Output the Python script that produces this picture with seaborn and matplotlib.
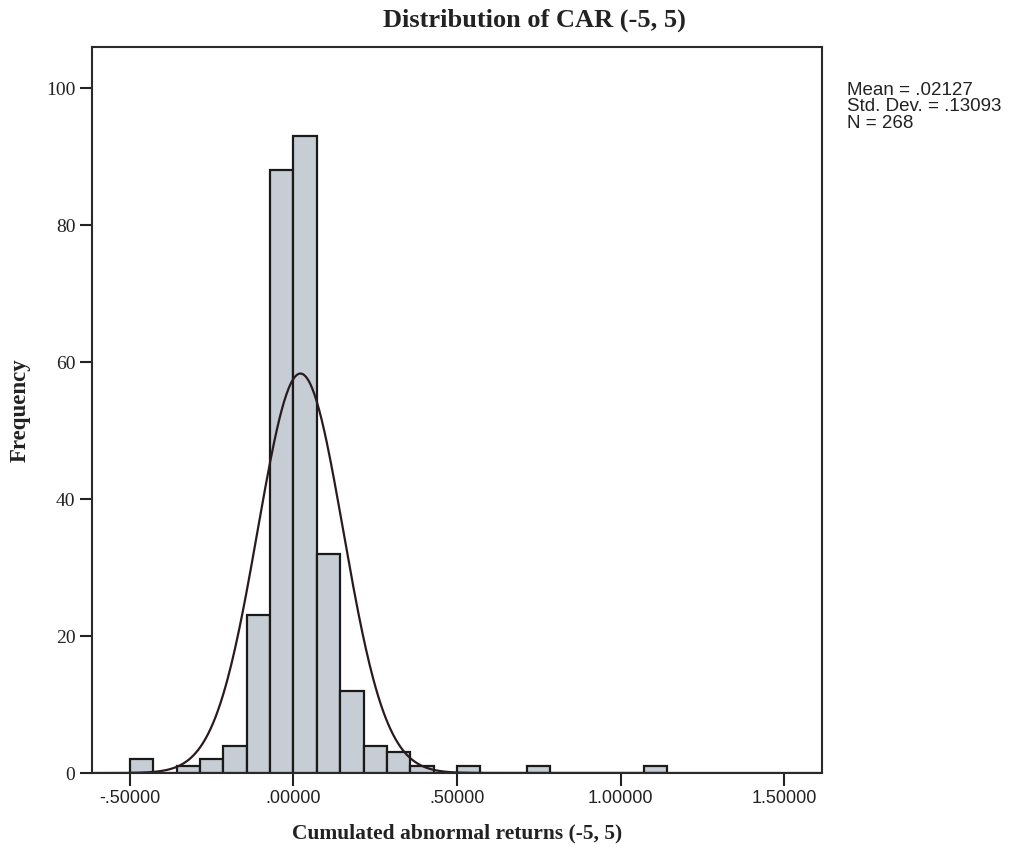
import numpy as np
import pandas as pd
import matplotlib
matplotlib.use("Agg")
import matplotlib.pyplot as plt
import seaborn as sns

# histogram bins: width 1/14, indexed by left edge k/14
bin_index = [-7, -6, -5, -4, -3, -2, -1, 0, 1, 2, 3, 4, 5, 6, 7, 8, 9, 10, 11, 12, 13, 14, 15]
counts = [2, 0, 1, 2, 4, 23, 88, 93, 32, 12, 4, 3, 1, 0, 1, 0, 0, 1, 0, 0, 0, 0, 1]
bin_width = 1 / 14

mean_car = 0.02127
sd_car = 0.13093
n_obs = 268

x_ticks = [-0.5, 0.0, 0.5, 1.0, 1.5]
x_tick_labels = ["-.50000", ".00000", ".50000", "1.00000", "1.50000"]
y_ticks = [0, 20, 40, 60, 80, 100]

sns.set_theme(style="white")
plt.rcParams["font.family"] = ["Liberation Serif", "DejaVu Serif"]

fig = plt.figure(figsize=(10.13, 8.49), dpi=100)
ax = fig.add_axes([0.0908, 0.0895, 0.7207, 0.8551])

df = pd.DataFrame({"center": (np.array(bin_index) + 0.5) * bin_width, "count": counts})
edges = [(k) * bin_width for k in bin_index + [bin_index[-1] + 1]]
sns.histplot(data=df, x="center", weights="count", bins=edges, ax=ax,
             color="#c6cdd4", edgecolor="#1a1a1a", linewidth=1.6, alpha=1)

# normal curve from the reported mean / sd / N
xs = np.linspace(-0.62, 1.62, 600)
ys = n_obs * bin_width * np.exp(-0.5 * ((xs - mean_car) / sd_car) ** 2) / (sd_car * np.sqrt(2 * np.pi))
ax.plot(xs, ys, color="#2a1a1e", linewidth=1.6)

ax.set_xlim(-0.616, 1.616)
ax.set_ylim(0, 106)
ax.set_xticks(x_ticks)
ax.set_xticklabels(x_tick_labels)
ax.set_yticks(y_ticks)
ax.set_yticklabels([str(v) for v in y_ticks])
ax.tick_params(axis="both", direction="out", length=9, width=1.5, color="#222222",
               labelcolor="#222222", bottom=True, left=True, pad=3)
ax.tick_params(axis="x", labelfontfamily="Liberation Sans", labelsize=13)
ax.tick_params(axis="y", labelsize=14)
for s in ax.spines.values():
    s.set_color("#2a2a2a")
    s.set_linewidth(1.5)

ax.set_xlabel("Cumulated abnormal returns (-5, 5)", fontsize=15.5, fontweight="bold",
              labelpad=12, color="#222222")
ax.set_ylabel("Frequency", fontsize=16.5, fontweight="bold", labelpad=11, color="#222222")

fig.text(0.528, 0.976, "Distribution of CAR (-5, 5)", ha="center", va="center",
         fontsize=19, fontweight="bold", color="#222222")

fig.text(0.836, 0.903, "Mean = .02127\nStd. Dev. = .13093\nN = 268",
         family=["Liberation Sans", "DejaVu Sans"], fontsize=13.5, va="top", ha="left",
         linespacing=0.93, color="#222222")

fig.savefig("out.png", dpi=100)
